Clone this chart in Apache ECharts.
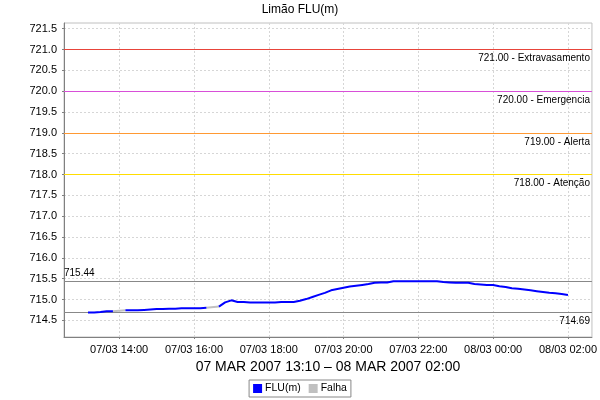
<!DOCTYPE html>
<html><head><meta charset="utf-8">
<script src="https://cdn.jsdelivr.net/npm/echarts@6/dist/echarts.min.js"></script>
<style>html,body{margin:0;padding:0;background:#fff}#c{width:600px;height:400px}</style>
</head><body><div id="c"></div>
<script>
const times = [
 '07/03 13:10','07/03 13:20','07/03 13:30','07/03 13:40','07/03 13:50','07/03 14:00','07/03 14:10','07/03 14:20','07/03 14:30','07/03 14:40','07/03 14:50',
 '07/03 15:00','07/03 15:10','07/03 15:20','07/03 15:30','07/03 15:40','07/03 15:50','07/03 16:00','07/03 16:10','07/03 16:20','07/03 16:30','07/03 16:40','07/03 16:50',
 '07/03 17:00','07/03 17:10','07/03 17:20','07/03 17:30','07/03 17:40','07/03 17:50','07/03 18:00','07/03 18:10','07/03 18:20','07/03 18:30','07/03 18:40','07/03 18:50',
 '07/03 19:00','07/03 19:10','07/03 19:20','07/03 19:30','07/03 19:40','07/03 19:50','07/03 20:00','07/03 20:10','07/03 20:20','07/03 20:30','07/03 20:40','07/03 20:50',
 '07/03 21:00','07/03 21:10','07/03 21:20','07/03 21:30','07/03 21:40','07/03 21:50','07/03 22:00','07/03 22:10','07/03 22:20','07/03 22:30','07/03 22:40','07/03 22:50',
 '07/03 23:00','07/03 23:10','07/03 23:20','07/03 23:30','07/03 23:40','07/03 23:50','08/03 00:00','08/03 00:10','08/03 00:20','08/03 00:30','08/03 00:40','08/03 00:50',
 '08/03 01:00','08/03 01:10','08/03 01:20','08/03 01:30','08/03 01:40','08/03 01:50','08/03 02:00'
];
const levels = [
 714.69,714.69,714.70,714.72,714.72,null,714.74,714.74,714.74,714.75,714.76,
 714.77,714.77,714.78,714.78,714.79,714.79,714.79,714.79,714.80,null,714.83,714.93,
 714.98,714.94,714.94,714.93,714.93,714.93,714.93,714.93,714.94,714.94,714.94,714.97,
 715.01,715.06,715.11,715.16,715.22,715.25,715.28,715.31,715.33,715.35,715.37,715.40,
 715.41,715.41,715.44,715.44,715.44,715.44,715.44,715.44,715.44,715.44,715.42,715.41,
 715.40,715.40,715.40,715.37,715.36,715.35,715.35,715.32,715.30,715.27,715.26,715.24,
 715.22,715.20,715.18,715.16,715.15,715.13,715.11
];
const thresholdValues = [721, 720, 719, 718];
const thresholdNames = ['Extravasamento', 'Emergencia', 'Alerta', 'Atenção'];
const xTickLabels = ['07/03 14:00','07/03 16:00','07/03 18:00','07/03 20:00','07/03 22:00','08/03 00:00','08/03 02:00'];
const yTickValues = [714.5,715.0,715.5,716.0,716.5,717.0,717.5,718.0,718.5,719.0,719.5,720.0,720.5,721.0,721.5];
const chartTitle = 'Limão FLU(m)';
const periodLabel = '07 MAR 2007 13:10 – 08 MAR 2007 02:00';

const thresholdColors = ['#e8443a', '#d84fd8', '#ff9933', '#ffdd00'];

function parseT(s) {
  const d = +s.slice(0, 2), mo = +s.slice(3, 5), h = +s.slice(6, 8), mi = +s.slice(9, 11);
  return Date.UTC(2007, mo - 1, d, h, mi);
}
function pad(n) { return (n < 10 ? '0' : '') + n; }
function fmtT(v) {
  const d = new Date(v);
  return pad(d.getUTCDate()) + '/' + pad(d.getUTCMonth() + 1) + ' ' + pad(d.getUTCHours()) + ':' + pad(d.getUTCMinutes());
}

const tms = times.map(parseT);
const fluData = tms.map((t, i) => [t, levels[i] == null ? '-' : levels[i]]);
// Falha segments: connect the readings either side of each missing reading
const falhaSegments = [];
levels.forEach((v, i) => {
  if (v == null) {
    let a = i - 1; while (a >= 0 && levels[a] == null) a--;
    let b = i + 1; while (b < levels.length && levels[b] == null) b++;
    if (a >= 0 && b < levels.length) falhaSegments.push([[tms[a], levels[a]], [tms[b], levels[b]]]);
  }
});
const span = tms[tms.length - 1] - tms[0];
const xMin = tms[0] - span * 0.05, xMax = tms[tms.length - 1] + span * 0.05;

const FONT = 'Liberation Sans';
const chart = echarts.init(document.getElementById('c'), null, { renderer: 'canvas' });

const lblBase = { position: 'insideEndBottom', distance: [2, 4], color: '#000', fontSize: 10, fontFamily: FONT };

const series = [{
  name: 'FLU(m)', type: 'line', data: fluData, showSymbol: false, symbol: 'none',
  color: '#0000ff', lineStyle: { color: '#0000ff', width: 2 }, connectNulls: false, z: 5,
  markLine: {
    silent: true, symbol: 'none', animation: false,
    lineStyle: { color: '#888888', width: 1, type: 'solid' },
    label: lblBase,
    data: [
      { type: 'max', label: { position: 'insideStartTop', distance: [0, 3], formatter: p => p.value.toFixed(2) } },
      { type: 'min', label: { formatter: p => p.value.toFixed(2) } }
    ]
  }
}];
thresholdValues.forEach((v, i) => series.push({
  name: 'limite' + i, type: 'line', data: [], z: 3, color: thresholdColors[i],
  markLine: {
    silent: true, symbol: 'none', animation: false,
    lineStyle: { color: thresholdColors[i], width: 1, type: 'solid', opacity: 1 },
    label: Object.assign({}, lblBase, { formatter: v.toFixed(2) + ' - ' + thresholdNames[i] }),
    data: [{ yAxis: v }]
  }
}));
falhaSegments.forEach(seg => series.push({
  name: 'Falha', type: 'line', data: seg, showSymbol: false, symbol: 'none',
  color: '#c0c0c0', lineStyle: { color: '#c0c0c0', width: 2 }, z: 4
}));

chart.setOption({
  animation: false,
  backgroundColor: '#fff',
  textStyle: { fontFamily: FONT },
  title: { text: chartTitle, left: 'center', top: 3, padding: 0,
    textStyle: { fontSize: 12, fontWeight: 'normal', color: '#000', fontFamily: FONT, lineHeight: 14 } },
  legend: {
    data: ['FLU(m)', 'Falha'], top: 380, left: 'center', icon: 'rect',
    itemWidth: 9, itemHeight: 9, itemGap: 8, padding: [3, 4, 3, 4],
    borderColor: '#888', borderWidth: 1, borderRadius: 0,
    textStyle: { fontSize: 10.5, color: '#000', fontFamily: FONT, padding: [0, 0, 0, -2] }
  },
  grid: { left: 64, right: 8, top: 23, bottom: 63, show: true, borderColor: '#c0c0c0', borderWidth: 1, containLabel: false },
  xAxis: {
    type: 'value', min: xMin, max: xMax,
    name: periodLabel, nameLocation: 'middle', nameGap: 20,
    nameTextStyle: { fontSize: 14, color: '#000', fontFamily: FONT, lineHeight: 14 },
    axisLine: { lineStyle: { color: '#808080', width: 1 } },
    axisTick: { show: true, length: 2, lineStyle: { color: '#808080' }, customValues: xTickLabels.map(parseT) },
    axisLabel: { customValues: xTickLabels.map(parseT), formatter: v => fmtT(v), fontSize: 11, color: '#000', margin: 7, fontFamily: FONT },
    splitLine: { show: true, lineStyle: { color: '#d6d6d6', type: [2, 2], width: 1 } }
  },
  yAxis: {
    type: 'value', min: 714.10, max: 721.636,
    axisLine: { show: true, lineStyle: { color: '#808080', width: 1 } },
    axisTick: { show: true, length: 2, lineStyle: { color: '#808080' }, customValues: yTickValues },
    axisLabel: { customValues: yTickValues, formatter: v => v.toFixed(1), fontSize: 11, color: '#000', margin: 7, fontFamily: FONT },
    splitLine: { show: true, lineStyle: { color: '#d6d6d6', type: [2, 2], width: 1 } }
  },
  series: series
});
</script></body></html>
